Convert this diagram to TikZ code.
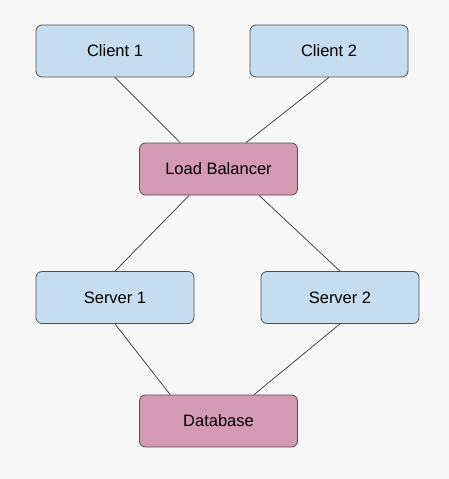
\documentclass[tikz,border=0pt]{standalone}
\usepackage{fontspec}
\setmainfont{Liberation Sans}
\definecolor{boxblue}{HTML}{C6DCEF}
\definecolor{boxpink}{HTML}{D49AB3}
\definecolor{boxline}{HTML}{505050}
\definecolor{backgr}{HTML}{F7F7F7}
\begin{document}
\begin{tikzpicture}
            [x=1pt,y=-1pt,
             box/.style={rectangle,rounded corners=6pt,draw=boxline,line width=0.8pt,minimum width=158pt,minimum height=52pt,inner sep=0pt,font=\fontsize{16.5}{20}\selectfont},
             blue/.style={box,fill=boxblue},
             pink/.style={box,fill=boxpink},
             link/.style={draw=black!80,line width=0.7pt}]
            \fill[backgr] (0,0) rectangle (449,479);
            \useasboundingbox (0,0) rectangle (449,479);
            \node[blue] (c1) at (115,51) {Client 1};
            \node[blue] (c2) at (329,51)  {Client 2};
            \node[pink] (lb) at (218.5,169)  {Load Balancer};
            \node[blue] (s1) at (115,297.5) {Server 1};
            \node[blue] (s2) at (340,297.5)  {Server 2};
            \node[pink] (db) at (218.5,421)  {Database};

            \foreach \from/\to/\dx in {c1/lb/41, c2/lb/107, s1/db/31, s2/db/115} \draw[link] (\from.south) -- ([xshift=\dx pt]\to.north west);
            \foreach \dx/\to in {50/s1, 120/s2} \draw[link] ([xshift=\dx pt]lb.south west) -- (\to.north);
        \end{tikzpicture}
\end{document}
